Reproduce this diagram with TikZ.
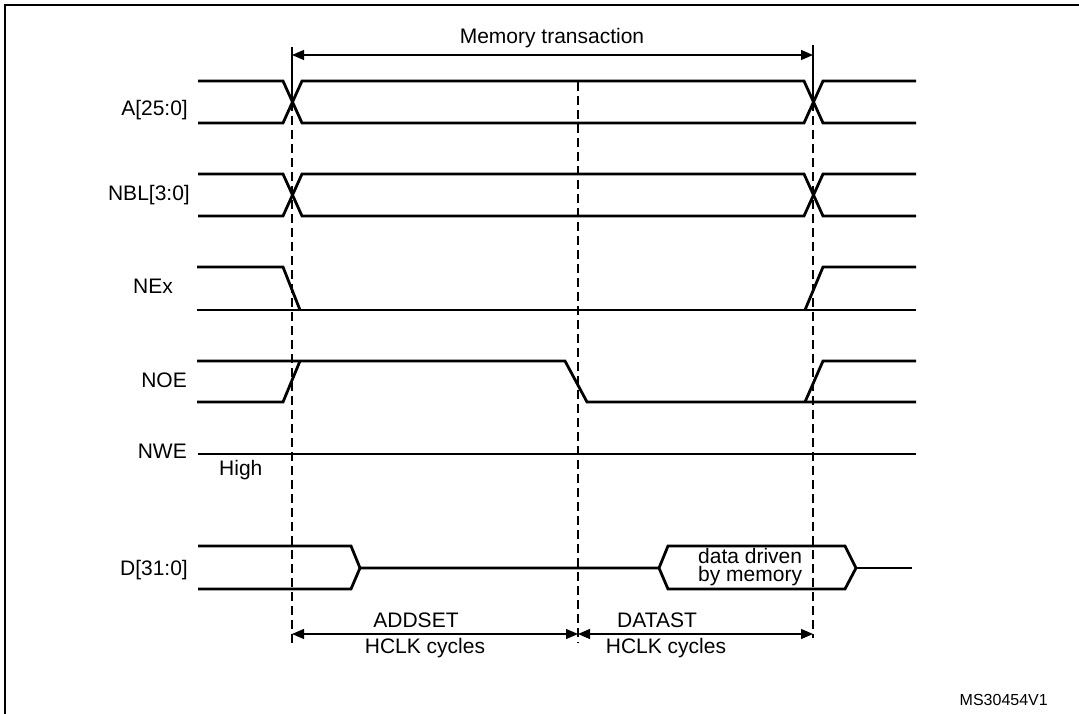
\documentclass[tikz,border=0pt]{standalone}
\usepackage{fontspec}
\setmainfont{Liberation Sans}
\usetikzlibrary{arrows.meta}
\begin{document}
\begin{tikzpicture}[x=1pt,y=-1pt,
  sig/.style={line width=2.8pt, line join=miter},
  dim/.style={line width=1.3pt, {Triangle[length=12pt,width=10pt]}-{Triangle[length=12pt,width=10pt]}},
  guide/.style={line width=1.2pt, dash pattern=on 9pt off 5pt},
  ext/.style={line width=1.2pt},
  lbl/.style={font=\fontsize{21}{24}\selectfont, inner sep=0pt},
  small/.style={font=\fontsize{16}{18}\selectfont, inner sep=0pt},
]
\useasboundingbox (0,0) rectangle (1079,714);
\clip (0,0) rectangle (1079,714);
% frame
\draw[line width=2.5pt] (5,730) -- (5,5) -- (1095,5);

% signal labels
\node[lbl, anchor=base east] (lA)   at (188,116) {A[25:0]};
\node[lbl, anchor=base east] (lNBL) at (190,201) {NBL[3:0]};
\node[lbl, anchor=base east] (lNEx) at (173,293) {NEx};
\node[lbl, anchor=base east] (lNOE) at (187,387) {NOE};
\node[lbl, anchor=base east] (lNWE) at (187,458) {NWE};
\node[lbl, anchor=base west] (lHigh) at (219,475) {High};
\node[lbl, anchor=base east] (lD)   at (188,575) {D[31:0]};

% A[25:0]
\draw[sig] (198,81) -- (283,81) -- (302,123) -- (804,123) -- (823,81) -- (916,81);
\draw[sig] (198,123) -- (283,123) -- (302,81) -- (804,81) -- (823,123) -- (916,123);
% NBL[3:0]
\draw[sig] (198,174) -- (283,174) -- (302,216) -- (804,216) -- (823,174) -- (916,174);
\draw[sig] (198,216) -- (283,216) -- (302,174) -- (804,174) -- (823,216) -- (916,216);
% NEx
\draw[sig] (197,267) -- (283,267) -- (300,310);
\draw[sig] (197,310) -- (916,310);
\draw[sig] (805,310) -- (823,267) -- (916,267);
% NOE
\draw[sig] (197,361) -- (565,361) -- (587,402) -- (916,402);
\draw[sig] (197,402) -- (283,402) -- (300,361);
\draw[sig] (805,402) -- (823,361) -- (916,361);
% NWE
\draw[sig] (198,454) -- (916,454);
% D[31:0]
\draw[sig] (198,546) -- (351,546) -- (360,568);
\draw[sig] (198,589) -- (351,589) -- (360,568) -- (659,568);
\draw[sig] (659,568) -- (668,546) -- (845,546) -- (856,568) -- (845,589) -- (668,589) -- cycle;
\draw[sig] (856,568) -- (912,568);
\node[lbl, align=left, anchor=west, font=\fontsize{21}{18}\selectfont] (ldata) at (698,567) {data driven\\by memory};

% guide lines
\coordinate (g1t) at (292,47);
\coordinate (g1m) at (292,102);
\coordinate (g1b) at (292,643);
\coordinate (g2t) at (813,45);
\coordinate (g2m) at (813,102);
\coordinate (g2b) at (813,638);
\coordinate (g3t) at (578,82);
\coordinate (g3b) at (578,643);
\draw[ext] (g1t) -- (g1m);
\draw[guide] (g1m) -- (g1b);
\draw[ext] (g2t) -- (g2m);
\draw[guide] (g2m) -- (g2b);
\draw[guide] (g3t) -- (g3b);

% dimension arrows
\coordinate (m1) at (292,55);
\coordinate (m2) at (813,55);
\draw[dim] (m1) -- (m2);
\node[lbl, anchor=base] (lmem) at (552,44) {Memory transaction};

\coordinate (b1) at (292,634);
\coordinate (b2) at (578,634);
\coordinate (b3) at (813,634);
\draw[dim] (b1) -- (b2);
\draw[dim] (b2) -- (b3);
\node[lbl, anchor=base] (ladd) at (416,627) {ADDSET};
\node[lbl, anchor=base] (lh1)  at (425,653) {HCLK cycles};
\node[lbl, anchor=base] (ldat) at (657,627) {DATAST};
\node[lbl, anchor=base] (lh2)  at (666,653) {HCLK cycles};

\node[small, anchor=base east] (lms) at (1048,705) {MS30454V1};
\end{tikzpicture}
\end{document}
